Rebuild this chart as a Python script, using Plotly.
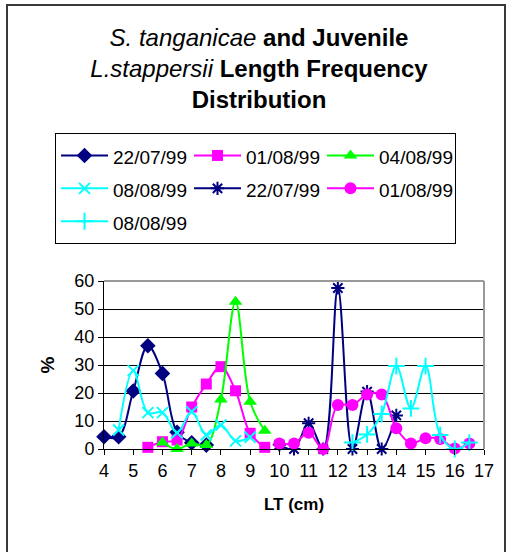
import plotly.graph_objects as go

# ---- data ----
x_d1 = [4, 4.5, 5, 5.5, 6, 6.5, 7, 7.5]
y_d1 = [4.4, 4.4, 20.7, 36.9, 27, 6, 2.2, 1.4]

x_s1 = [5.5, 6, 6.5, 7, 7.5, 8, 8.5, 9, 9.5]
y_s1 = [0.6, 2.6, 3.2, 15, 23.2, 29.4, 20.8, 5.6, 0.6]

x_t1 = [6, 6.5, 7, 7.5, 8, 8.5, 9, 9.5]
y_t1 = [2.3, 0, 2, 1.4, 17.7, 52.6, 16.9, 6.5]

x_x1 = [4.5, 5, 5.5, 6, 6.5, 7, 7.5, 8, 8.5, 9]
y_x1 = [6.8, 28, 13, 13, 5.8, 13.3, 5, 8.6, 2.9, 4.2]

x_a2 = [10, 10.5, 11, 11.5, 12, 12.5, 13, 13.5, 14]
y_a2 = [1.5, 0, 9.2, 0, 57.5, 0, 20.5, 0, 12]

x_c2 = [10, 10.5, 11, 11.5, 12, 12.5, 13, 13.5, 14, 14.5, 15, 15.5, 16, 16.5]
y_c2 = [2, 2, 5.8, 0, 15.7, 15.7, 19.5, 19.5, 7.4, 2, 3.8, 3.6, 0.2, 2]

x_p2 = [12.5, 13, 13.5, 14, 14.5, 15, 15.5, 16, 16.5]
y_p2 = [2.3, 5.2, 12.5, 29.6, 14.5, 29.6, 5, 0, 2.3]

names = ["22/07/99", "01/08/99", "04/08/99", "08/08/99", "22/07/99", "01/08/99", "08/08/99"]
x_ticks = list(range(4, 18))
y_ticks = list(range(0, 61, 10))

NAVY, MAG, GRN, CYAN = "#000080", "#FF00FF", "#00FF00", "#00FFFF"
FONT = "Liberation Sans, Arial, sans-serif"

W, H = 512, 552
ML, MR, MT, MB = 104, 28, 281, 103
PW, PH = W - ML - MR, H - MT - MB


def px(xp):
    return (xp - ML) / PW


def py(yp):
    return 1 - (yp - MT) / PH


series = [
    (x_d1, y_d1, NAVY, dict(symbol="diamond", size=12, color=NAVY)),
    (x_s1, y_s1, MAG, dict(symbol="square", size=11, color=MAG)),
    (x_t1, y_t1, GRN, dict(symbol="triangle-up", size=12, color=GRN)),
    (x_x1, y_x1, CYAN, dict(symbol="x-thin-open", size=11, color=CYAN, line=dict(width=2, color=CYAN))),
    (x_a2, y_a2, NAVY, dict(symbol="asterisk-open", size=11, color=NAVY, line=dict(width=2, color=NAVY))),
    (x_c2, y_c2, MAG, dict(symbol="circle", size=12, color=MAG)),
    (x_p2, y_p2, CYAN, dict(symbol="cross-thin-open", size=12, color=CYAN, line=dict(width=2, color=CYAN))),
]

fig = go.Figure()
for (xs, ys, col, mk), nm in zip(series, names):
    fig.add_trace(go.Scatter(
        x=xs, y=ys, name='<span style="font-size:19px">' + nm + '</span>',
        mode="lines+markers",
        line=dict(color=col, width=2, shape="spline", smoothing=1),
        marker=mk, cliponaxis=False,
    ))

fig.update_layout(
    width=W, height=H,
    margin=dict(l=ML, r=MR, t=MT, b=MB),
    paper_bgcolor="white", plot_bgcolor="white",
    font=dict(family=FONT, color="black"),
    title=dict(
        text="<i>S. tanganicae</i> <b>and Juvenile</b><br>"
             "<i>L.stappersii</i> <b>Length Frequency</b><br>"
             "<b>Distribution</b>",
        x=259 / W, xref="container", xanchor="center",
        y=1 - 46 / H, yref="container", yanchor="top",
        font=dict(size=24, family=FONT),
    ),
    showlegend=True,
    legend=dict(
        orientation="h", xref="paper", yref="paper",
        x=px(55), y=py(133), xanchor="left", yanchor="top",
        bordercolor="black", borderwidth=1, bgcolor="white",
        font=dict(size=23, family=FONT),
        entrywidth=71, entrywidthmode="pixels", itemwidth=47,
        traceorder="normal",
    ),
    xaxis=dict(
        range=[4, 17], tickmode="array", tickvals=x_ticks,
        showgrid=False, zeroline=False,
        showline=True, linecolor="black", linewidth=1,
        ticks="outside", ticklen=5, tickcolor="black",
        tickfont=dict(size=18, family=FONT),
        title=dict(text="<b>LT (cm)</b>", font=dict(size=17, family=FONT), standoff=18),
    ),
    yaxis=dict(
        range=[0, 60], tickmode="array", tickvals=y_ticks,
        showgrid=True, gridcolor="black", gridwidth=1, zeroline=False,
        showline=True, linecolor="black", linewidth=1,
        ticks="outside", ticklen=5, tickcolor="black",
        tickfont=dict(size=18, family=FONT),
        title=dict(text="<b>%</b>", font=dict(size=19, family=FONT), standoff=14),
    ),
    shapes=[
        # plot-area frame (grey top / right)
        dict(type="line", xref="paper", yref="paper", x0=0, x1=1, y0=1, y1=1,
             line=dict(color="#999999", width=2), layer="above"),
        dict(type="line", xref="paper", yref="paper", x0=1, x1=1, y0=0, y1=1,
             line=dict(color="#999999", width=2), layer="above"),
        # outer chart border
        dict(type="rect", xref="paper", yref="paper",
             x0=px(7), x1=px(505), y0=py(570), y1=py(5),
             line=dict(color="#3a3a3a", width=2), layer="below"),
    ],
)

fig.write_html("out.html")
